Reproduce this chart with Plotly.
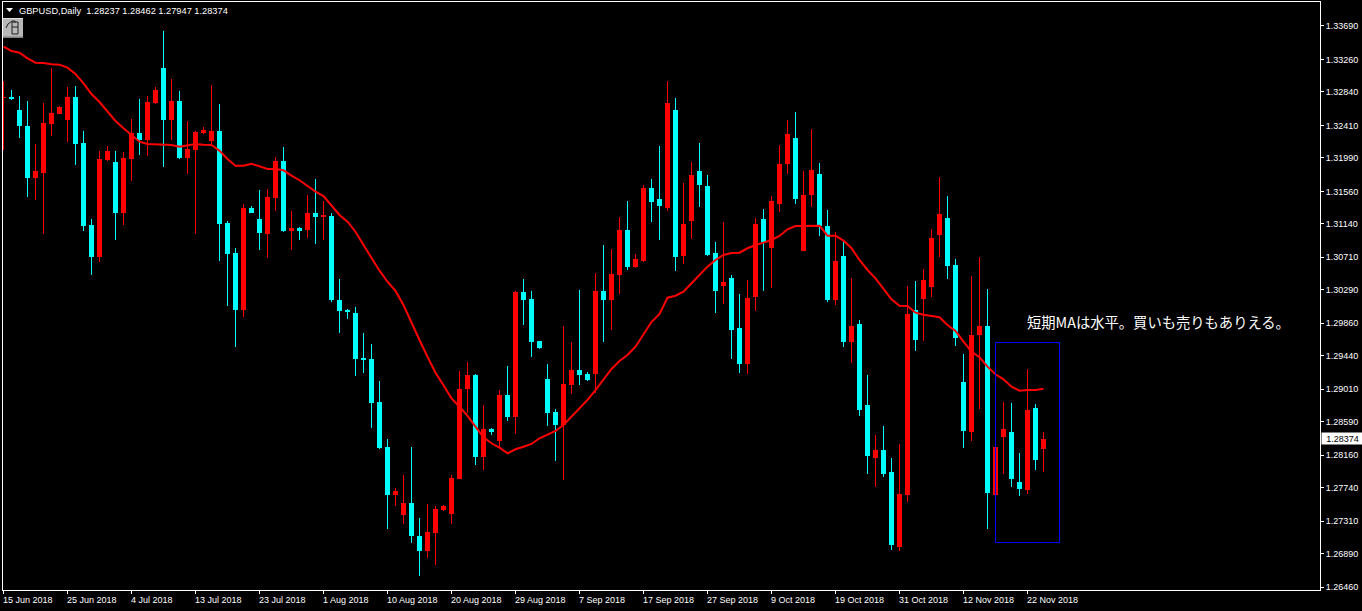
import plotly.graph_objects as go

dates = {0:"15 Jun 2018",8:"25 Jun 2018",16:"4 Jul 2018",24:"13 Jul 2018",32:"23 Jul 2018",40:"1 Aug 2018",
         48:"10 Aug 2018",56:"20 Aug 2018",64:"29 Aug 2018",72:"7 Sep 2018",80:"17 Sep 2018",88:"27 Sep 2018",
         96:"9 Oct 2018",104:"19 Oct 2018",112:"31 Oct 2018",120:"12 Nov 2018",128:"22 Nov 2018"}
y_ticks = [1.33690,1.33260,1.32840,1.32410,1.31990,1.31560,1.31140,1.30710,1.30290,1.29860,
           1.29440,1.29010,1.28590,1.28160,1.27740,1.27310,1.26890,1.26460]

# (colour flag, high, body top, body bottom, low) in units of 1e-5; colour: 1 up (red), 0 down (cyan)
up = [1,0,0,0,1,1,1,1,1,0, 0,0,1,1,0,1,1,0,1,1, 0,1,0,1,1,1,1,0,0,0, 1,0,0,1,1,0,1,0,1,0,
      1,0,0,0,0,0,0,0,0,1, 1,0,0,1,1,1,1,1,1,0, 1,0,1,0,1,0,0,0,0,0, 1,1,0,0,1,0,1,1,0,1,
      1,0,0,1,0,1,1,0,0,0, 1,0,0,1,1,0,1,1,1,0, 1,1,0,0,1,0,1,0,0,1, 0,0,1,1,0,1,1,1,0,0,
      0,1,1,0,1,1,0,0,1,0, 1]
high = [132982,132866,132788,132724,132170,132698,133149,132660,132904,132917,
        132338,131204,132080,132144,132080,132067,132492,132750,132788,132904,
        133626,133007,132853,132466,132338,132389,132930,132685,131178,130830,
        131397,131371,131578,131590,132003,132131,131307,131101,131513,131719,
        131436,131281,130431,130045,130071,129736,129594,129117,128370,127739,
        127907,128267,127353,127533,127507,127520,127907,129246,129362,129208,
        128808,128512,129001,129311,130277,130431,130277,129633,129336,128757,
        129826,129620,130290,129233,130508,130869,130818,131230,131436,130753,
        131642,131719,132144,132982,132763,131668,131938,132183,131771,130908,
        131165,130483,130238,130418,131217,131333,131500,132157,132479,132582,
        131822,132363,131925,131320,131037,130908,130444,129903,129195,128422,
        128538,128125,128306,130341,130405,130560,131075,131745,131500,130689,
        129465,130470,130715,130302,128267,128847,128834,128190,129272,128821,
        128462]
top = [132775,132772,132608,132402,131822,132441,132569,132647,132775,132775,
       132183,131127,131977,132080,131938,131990,132312,132312,132711,132866,
       133149,132724,132724,132106,132325,132350,132338,132338,131153,130766,
       131346,131346,131204,131487,131951,131951,131088,131088,131281,131281,
       131243,131243,130161,130032,129993,129414,129401,128847,128267,127700,
       127546,127546,127121,127172,127469,127507,127868,129014,129195,129195,
       128499,128499,128937,128937,130264,130264,130174,129633,129143,128718,
       129079,129259,129259,129208,130277,130277,130496,131062,131062,130689,
       131603,131603,131462,132698,132608,131140,131771,131822,131629,130766,
       130393,130444,129800,130186,131140,131204,131436,131912,132299,132247,
       131513,131835,131784,131114,130663,130727,129826,129852,128808,128229,
       128229,127945,127662,129980,130032,130418,130959,131268,131217,130611,
       129104,129710,129826,129826,128267,128499,128460,127816,128744,128769,
       128374]
bottom = [132763,132746,132402,131732,131732,131797,132428,132557,132479,132170,
          131114,130715,130715,131964,131281,131281,131977,132222,132222,132698,
          132479,132479,131990,131990,132093,132312,132209,131140,130753,130032,
          130032,131281,131024,131011,131475,131049,131049,131049,131062,131230,
          131230,130161,130019,130006,129401,129388,128834,128254,127649,127649,
          127391,127121,126928,126928,127159,127456,127404,127855,129014,128138,
          128138,128460,128345,128654,128654,130161,129620,129542,128705,128551,
          128551,129066,129195,129130,129208,130161,130161,130483,130586,130586,
          130663,131423,131371,131346,130715,130727,131178,131642,130740,130277,
          130341,129774,129336,129336,130199,130908,130830,131397,131912,131462,
          130792,131513,131114,130161,130161,129620,129620,128744,128151,128125,
          127919,127005,126979,127649,129645,130174,130328,130998,130599,129671,
          128473,128460,129710,127675,127649,128396,127855,127726,127713,128100,
          128237]
low = [132093,132737,132247,131487,131449,131011,132273,132557,132196,131900,
       131049,130483,130650,131951,130934,131127,131694,132028,132016,132685,
       131874,132222,131977,131784,131011,132299,132157,130663,130083,129555,
       129942,131281,130805,130702,131307,131037,130805,130934,130959,130882,
       130934,130135,129736,129916,129182,129220,128512,128241,127211,127507,
       127275,127031,126606,126837,126747,127443,127275,127855,128705,128035,
       127971,128422,128267,128602,128435,129839,129427,129530,128538,128087,
       127842,128950,129066,129117,128963,129620,129774,130238,130547,130573,
       130650,131165,130934,131307,130534,130624,130946,131359,130727,129993,
       130109,129401,129220,129208,130019,130277,130315,131294,131784,131397,
       130792,131359,130985,130135,130096,129555,129349,128667,127919,127752,
       127881,126940,126928,127559,129504,129633,130199,130715,130431,129568,
       128254,128345,128757,127211,127649,127919,127752,127636,127662,127971,
       127947]
ma = [133423,133368,133346,133274,133217,133213,133197,133192,133153,133072,
      132952,132814,132711,132586,132466,132372,132286,132200,132170,132166,
      132161,132157,132135,132153,132170,132161,132157,132084,131977,131891,
      131891,131916,131878,131848,131848,131831,131762,131703,131629,131556,
      131500,131372,131256,131169,131040,130869,130698,130538,130396,130277,
      130096,129861,129645,129430,129224,129062,128894,128786,128667,128529,
      128392,128315,128258,128186,128238,128271,128306,128379,128431,128473,
      128551,128658,128766,128873,129001,129143,129272,129375,129452,129559,
      129710,129877,129980,130190,130216,130268,130376,130483,130590,130676,
      130740,130766,130770,130827,130869,130899,130934,130985,131071,131114,
      131118,131118,131118,130989,130989,130925,130827,130676,130547,130440,
      130311,130170,130087,130083,129997,129971,129955,129938,129839,129761,
      129624,129495,129423,129302,129204,129139,129044,128992,129001,129001,
      129018]
header_text = "GBPUSD,Daily\u00a0\u00a01.28237 1.28462 1.27947 1.28374"
note_text = "短期MAは水平。買いも売りもありえる。"
last_price = 1.28374
box_x = [124, 132]
box_y = [1.27037, 1.29613]

n = len(up)
assert all(len(a) == n for a in (high, top, bottom, low, ma)), [len(a) for a in (up, high, top, bottom, low, ma)]
idx = list(range(n))
S = 1e-5
RED, CYAN = "#ff0000", "#00ffff"
FONT = "Liberation Sans"

fig = go.Figure()
for flag, col in ((1, RED), (0, CYAN)):
    sel = [i for i in idx if up[i] == flag]
    fig.add_trace(go.Bar(x=sel, y=[(top[i] - bottom[i]) * S for i in sel], base=[bottom[i] * S for i in sel],
                         width=0.625, marker=dict(color=col, line=dict(width=0)), showlegend=False, hoverinfo="skip"))
    wx, wy = [], []
    for i in sel:
        wx += [i, i, None]
        wy += [high[i] * S, low[i] * S, None]
    fig.add_trace(go.Scatter(x=wx, y=wy, mode="lines", line=dict(color=col, width=1), showlegend=False, hoverinfo="skip"))
fig.add_trace(go.Scatter(x=idx, y=[v * S for v in ma], mode="lines", line=dict(color=RED, width=2),
                         showlegend=False, hoverinfo="skip"))

L, T, R, B = 3, 2, 1320, 590
def px(v): return (v - L) / (R - L)
def py(v): return (B - v) / (B - T)

annos = [dict(x=i, xshift=-0.5, y=py(600), yref="paper", xref="x", text=t, showarrow=False, xanchor="left", yanchor="middle",
              borderpad=0, borderwidth=0, font=dict(family=FONT, size=9, color="white")) for i, t in dates.items()]
annos.append(dict(x=px(17.5), y=py(10.5), xref="paper", yref="paper", text=header_text, showarrow=False, xanchor="left",
                  yanchor="middle", borderpad=0, font=dict(family=FONT, size=9.25, color="white")))
annos.append(dict(x=px(1026), y=py(321), xref="paper", yref="paper", text=note_text, showarrow=False, xanchor="left",
                  yanchor="middle", borderpad=0, font=dict(family="Noto Sans CJK JP", size=14.3, color="white")))
annos.append(dict(x=px(1321), y=last_price, xref="paper", yref="y", text="1.28374", showarrow=False,
                  xanchor="left", yanchor="middle", width=41, height=11, bgcolor="white", borderpad=0, align="center",
                  font=dict(family=FONT, size=9, color="black")))

def pshape(x0, y0, x1, y1, **kw):
    return dict(type="rect", xref="paper", yref="paper", x0=px(x0), x1=px(x1), y0=py(y0), y1=py(y1), layer="above", **kw)
def ppath(points, close=True, **kw):
    d = "M" + " L".join(f"{px(a)} {py(b)}" for a, b in points) + (" Z" if close else "")
    return dict(type="path", xref="paper", yref="paper", path=d, layer="above", **kw)

shapes = [
    dict(type="rect", xref="x", yref="y", x0=box_x[0], x1=box_x[1], y0=box_y[0], y1=box_y[1],
         line=dict(color="#0000ff", width=1), fillcolor="rgba(0,0,0,0)", layer="above"),
    ppath([(6, 8), (13, 8), (9.5, 12)], fillcolor="white", line=dict(width=0)),
    pshape(3, 18, 23, 38, fillcolor="#b8b8b8", line=dict(width=0)),
    pshape(3, 18, 23, 19, fillcolor="#dcdcdc", line=dict(width=0)),
    pshape(3, 36.5, 23, 38, fillcolor="#808080", line=dict(width=0)),
    pshape(12, 22, 18, 34, fillcolor="rgba(0,0,0,0)", line=dict(color="#202020", width=1)),
    ppath([(12, 27), (18, 27)], close=False, line=dict(color="#202020", width=1)),
    ppath([(6, 28), (8, 24), (12, 21), (15, 21), (15, 23)], close=False, line=dict(color="#202020", width=1)),
]

axis = dict(showgrid=False, zeroline=False, showline=True, linecolor="white", linewidth=1, mirror=True,
            ticks="outside", ticklen=3, tickwidth=1, tickcolor="white",
            tickfont=dict(family=FONT, size=9, color="white"))
fig.update_layout(
    width=1362, height=611, autosize=False, margin=dict(l=L, r=1362 - R, t=T, b=611 - B, pad=0),
    paper_bgcolor="black", plot_bgcolor="black", showlegend=False, bargap=0, barmode="overlay",
    xaxis=dict(range=[-0.0625, 164.5625], tickmode="array", tickvals=list(dates.keys()), showticklabels=False, **axis),
    yaxis=dict(range=[1.26425, 1.33999], side="right", tickmode="array", tickvals=y_ticks,
               ticktext=[f"{v:.5f}" for v in y_ticks], **axis),
    annotations=annos, shapes=shapes,
)
fig.write_html("out.html", config=dict(displayModeBar=False),
               post_script="document.body.style.margin='0';document.body.style.overflow='hidden';")
